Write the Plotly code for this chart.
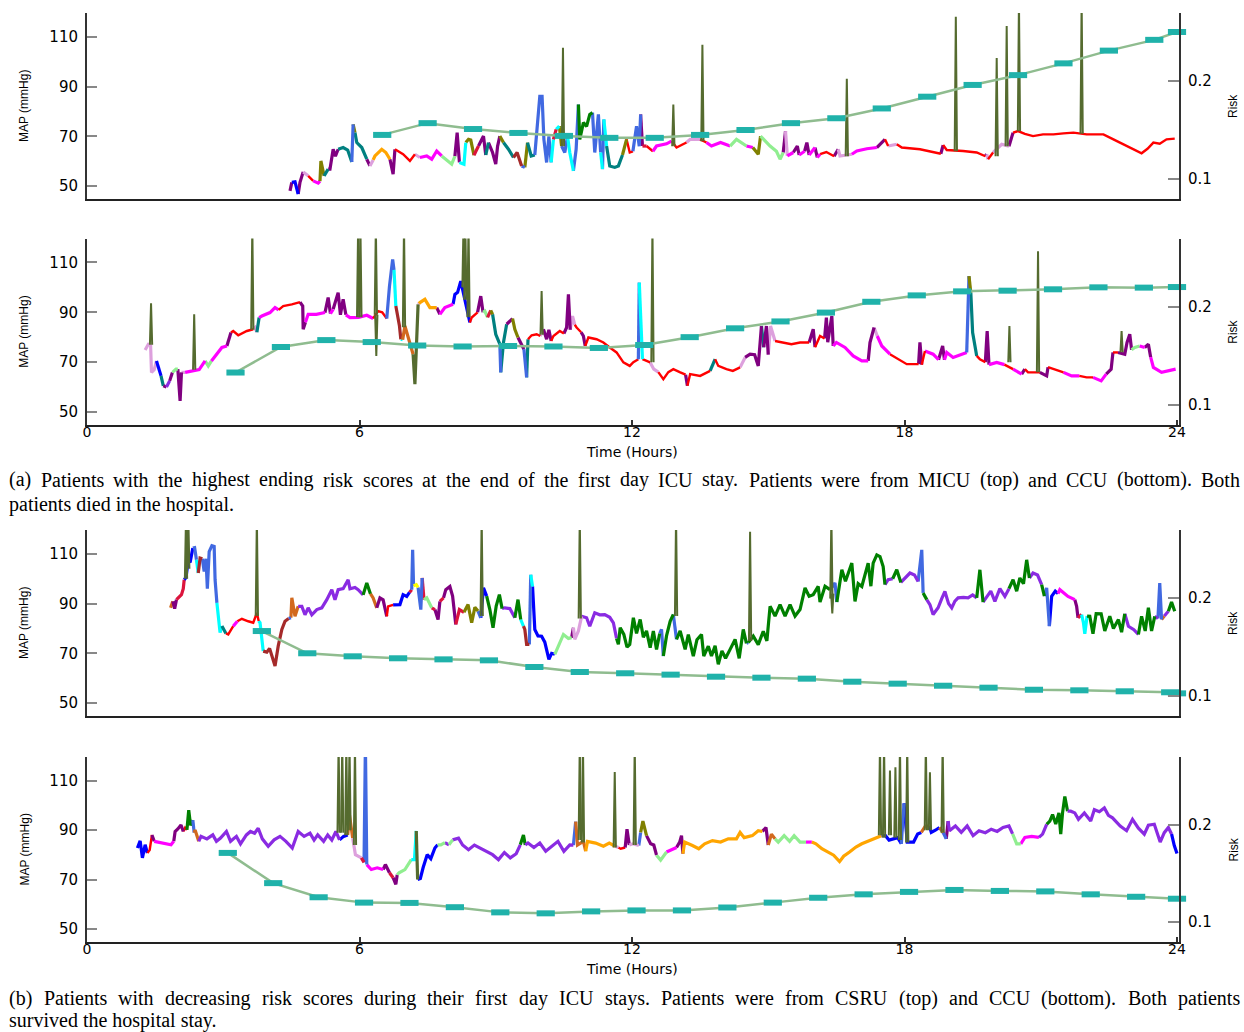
import plotly.graph_objects as go

# ---------------- data ----------------
hour_ticks = [0, 6, 12, 18, 24]
map_ticks = [50, 70, 90, 110]
risk_ticks = [0.1, 0.2]
risk_tick_text = ["0.1", "0.2"]

# MAP traces: (hour, mmHg, colour code of the segment that starts at this point)
map1 = [(4.47,48.1,'P'),(4.51,51.5,'b'),(4.58,51.7,'b'),(4.65,46.8,'P'),(4.69,51.5,'P'),(4.76,55.7,'L'),(4.87,54.1,'R'),(4.98,52.1,'M'),(5.09,51.2,'M'),(5.13,52.0,'O'),(5.15,60.1,'O'),(5.22,54.1,'T'),(5.31,56.8,'P'),(5.35,56.8,'P'),(5.42,64.8,'P'),(5.47,62.0,'P'),(5.53,64.8,'T'),(5.64,65.5,'T'),(5.74,64.5,'T'),(5.83,59.7,'B'),(5.86,74.8,'O'),(5.90,71.5,'T'),(5.94,67.5,'T'),(6.05,65.5,'T'),(6.16,60.8,'P'),(6.23,58.1,'L'),(6.30,60.5,'Y'),(6.34,62.1,'Y'),(6.49,64.8,'Y'),(6.58,63.5,'Y'),(6.67,60.8,'P'),(6.74,54.8,'P'),(6.78,64.8,'R'),(6.96,62.8,'R'),(7.11,60.1,'R'),(7.22,62.8,'L'),(7.33,61.5,'M'),(7.48,62.1,'M'),(7.59,60.8,'M'),(7.70,64.1,'M'),(7.81,62.1,'g'),(7.92,60.5,'g'),(8.03,58.8,'g'),(8.10,62.0,'P'),(8.15,71.5,'P'),(8.20,59.5,'C'),(8.30,58.8,'C'),(8.34,67.5,'O'),(8.40,68.8,'O'),(8.45,68.5,'O'),(8.52,62.4,'K'),(8.62,66.1,'P'),(8.73,70.1,'P'),(8.78,62.5,'T'),(8.84,67.5,'P'),(8.93,63.5,'P'),(9.00,58.8,'P'),(9.04,66.0,'P'),(9.09,70.1,'O'),(9.17,67.5,'T'),(9.28,64.8,'T'),(9.39,61.5,'W'),(9.47,63.5,'W'),(9.57,58.1,'B'),(9.64,57.5,'O'),(9.70,67.5,'T'),(9.78,62.1,'T'),(9.86,62.5,'B'),(9.90,71.5,'B'),(9.97,86.1,'B'),(10.02,86.1,'B'),(10.06,68.8,'B'),(10.12,59.5,'B'),(10.17,70.0,'B'),(10.22,59.5,'C'),(10.27,68.8,'K'),(10.33,72.8,'C'),(10.40,74.1,'O'),(10.45,66.1,'B'),(10.52,63.5,'B'),(10.58,70.0,'C'),(10.63,63.5,'C'),(10.71,56.1,'B'),(10.77,64.8,'B'),(10.82,82.8,'G'),(10.85,68.8,'G'),(10.93,75.5,'G'),(11.00,74.0,'G'),(11.07,78.8,'G'),(11.13,79.5,'B'),(11.18,63.5,'B'),(11.26,78.8,'B'),(11.31,63.5,'C'),(11.35,56.8,'B'),(11.38,76.8,'C'),(11.44,66.1,'T'),(11.51,58.1,'T'),(11.62,57.5,'T'),(11.70,58.1,'T'),(11.79,62.5,'O'),(11.88,68.8,'R'),(11.95,63.5,'R'),(12.02,64.0,'B'),(12.10,74.1,'B'),(12.16,66.0,'B'),(12.19,78.8,'P'),(12.23,66.1,'K'),(12.32,66.1,'R'),(12.46,64.0,'M'),(12.54,66.1,'M'),(12.76,67.0,'M'),(12.87,68.1,'R'),(12.98,65.5,'R'),(13.20,67.5,'L'),(13.28,68.8,'L'),(13.50,68.8,'R'),(13.64,67.5,'M'),(13.75,66.1,'M'),(13.95,67.5,'M'),(14.16,66.1,'g'),(14.30,68.8,'g'),(14.52,66.1,'M'),(14.66,65.5,'O'),(14.78,62.8,'O'),(14.83,70.1,'g'),(15.04,66.1,'g'),(15.18,64.0,'g'),(15.26,60.8,'g'),(15.33,63.5,'P'),(15.38,72.1,'L'),(15.42,62.1,'M'),(15.55,63.5,'P'),(15.64,66.1,'P'),(15.68,62.5,'M'),(15.80,64.0,'P'),(15.85,67.5,'P'),(15.90,62.5,'M'),(16.03,65.5,'P'),(16.08,61.5,'M'),(16.14,62.8,'R'),(16.28,63.7,'R'),(16.45,62.0,'P'),(16.54,64.8,'L'),(16.58,62.1,'L'),(16.84,62.8,'M'),(16.95,64.1,'M'),(17.17,65.0,'M'),(17.39,65.5,'P'),(17.57,68.8,'R'),(17.64,66.1,'L'),(17.83,66.8,'R'),(17.94,65.5,'R'),(18.34,64.8,'R'),(18.63,63.5,'R'),(18.80,63.0,'P'),(18.85,66.5,'R'),(18.93,64.5,'R'),(19.29,64.1,'R'),(19.59,63.5,'R'),(19.78,62.0,'P'),(19.81,62.8,'L'),(19.84,60.8,'R'),(19.95,63.5,'L'),(20.14,66.8,'L'),(20.30,66.0,'P'),(20.39,71.5,'R'),(20.50,72.1,'R'),(20.65,71.0,'R'),(20.83,70.1,'R'),(21.05,70.8,'R'),(21.28,70.8,'R'),(21.50,71.2,'R'),(21.72,71.5,'R'),(22.01,70.8,'R'),(22.38,70.8,'R'),(22.60,68.8,'R'),(22.89,66.1,'R'),(23.05,64.5,'R'),(23.22,63.2,'R'),(23.35,65.0,'R'),(23.48,67.5,'R'),(23.62,67.0,'R'),(23.77,68.8,'R'),(23.95,69.1,'R')]

map2 = [(1.28,74.9,'L'),(1.35,77.2,'L'),(1.40,77.0,'L'),(1.42,65.9,'L'),(1.48,67.0,'L'),(1.53,70.5,'b'),(1.58,67.0,'b'),(1.63,64.5,'T'),(1.68,60.5,'P'),(1.75,60.0,'V'),(1.82,62.5,'P'),(1.88,65.9,'g'),(1.96,67.2,'g'),(2.00,67.2,'P'),(2.05,54.5,'P'),(2.08,65.9,'L'),(2.16,65.9,'M'),(2.34,66.5,'M'),(2.47,67.0,'M'),(2.60,70.5,'g'),(2.67,68.5,'g'),(2.74,70.5,'M'),(2.82,72.5,'M'),(2.97,75.9,'M'),(3.08,76.5,'P'),(3.13,79.9,'P'),(3.17,81.9,'R'),(3.22,82.5,'R'),(3.33,80.8,'R'),(3.52,82.5,'R'),(3.66,83.2,'L'),(3.70,83.9,'L'),(3.74,82.0,'T'),(3.79,87.9,'M'),(3.85,88.5,'M'),(4.03,89.9,'M'),(4.14,91.9,'M'),(4.22,91.0,'R'),(4.32,92.5,'R'),(4.51,93.2,'R'),(4.69,94.1,'P'),(4.75,92.5,'P'),(4.76,83.2,'P'),(4.81,86.0,'M'),(4.87,89.2,'M'),(5.05,89.2,'M'),(5.24,89.9,'P'),(5.31,95.9,'P'),(5.36,89.5,'M'),(5.42,91.2,'P'),(5.53,97.9,'P'),(5.58,89.0,'P'),(5.64,95.2,'P'),(5.70,89.0,'M'),(5.79,87.9,'M'),(5.98,88.0,'M'),(6.16,88.8,'M'),(6.30,87.5,'R'),(6.41,90.5,'R'),(6.50,90.0,'R'),(6.60,87.5,'B'),(6.66,100.5,'B'),(6.73,111.2,'B'),(6.76,107.0,'C'),(6.80,92.5,'W'),(6.88,84.5,'W'),(6.91,79.2,'C'),(6.95,79.0,'H'),(7.00,84.5,'H'),(7.18,73.2,'D'),(7.22,61.2,'D'),(7.29,93.2,'L'),(7.31,93.5,'Y'),(7.33,93.9,'Y'),(7.44,95.2,'Y'),(7.55,91.9,'Y'),(7.70,91.9,'P'),(7.77,89.2,'M'),(7.88,91.9,'M'),(8.06,93.2,'b'),(8.10,97.2,'b'),(8.16,98.0,'b'),(8.23,102.5,'b'),(8.43,85.9,'R'),(8.47,87.9,'R'),(8.60,90.0,'P'),(8.67,96.5,'P'),(8.72,90.0,'g'),(8.76,90.5,'g'),(8.82,88.0,'K'),(8.89,90.8,'O'),(8.93,89.2,'T'),(9.00,81.2,'T'),(9.09,77.2,'B'),(9.11,65.9,'T'),(9.17,77.9,'T'),(9.24,85.2,'P'),(9.37,87.5,'O'),(9.42,83.2,'O'),(9.49,79.9,'P'),(9.62,75.2,'B'),(9.68,63.9,'T'),(9.71,79.2,'R'),(9.79,80.8,'R'),(9.90,81.2,'R'),(9.98,80.5,'L'),(10.05,83.2,'P'),(10.12,79.2,'P'),(10.17,83.0,'P'),(10.22,78.5,'R'),(10.27,80.5,'R'),(10.41,82.5,'R'),(10.50,81.5,'P'),(10.56,83.9,'P'),(10.60,97.2,'P'),(10.64,83.0,'L'),(10.69,88.5,'L'),(10.74,85.0,'R'),(10.78,83.9,'R'),(10.88,82.0,'P'),(10.93,80.5,'P'),(10.97,76.5,'R'),(11.04,79.9,'R'),(11.22,79.2,'R'),(11.37,77.9,'R'),(11.51,75.9,'R'),(11.66,73.9,'R'),(11.81,69.9,'R'),(11.95,68.5,'R'),(12.03,70.0,'R'),(12.14,71.2,'B'),(12.16,101.9,'C'),(12.19,85.9,'C'),(12.23,71.2,'R'),(12.32,70.5,'R'),(12.40,69.9,'L'),(12.48,67.2,'L'),(12.58,66.0,'R'),(12.69,63.2,'R'),(12.80,66.0,'R'),(12.91,67.2,'R'),(13.05,66.0,'R'),(13.18,65.0,'P'),(13.22,60.5,'R'),(13.28,65.2,'R'),(13.50,64.5,'R'),(13.72,66.5,'T'),(13.83,71.2,'R'),(13.90,68.5,'R'),(14.08,67.2,'R'),(14.22,66.5,'R'),(14.38,67.9,'L'),(14.49,71.9,'P'),(14.60,73.2,'P'),(14.70,73.0,'P'),(14.78,68.5,'P'),(14.85,84.5,'T'),(14.90,76.0,'P'),(14.96,84.5,'P'),(15.00,73.0,'L'),(15.05,84.5,'L'),(15.15,78.5,'R'),(15.33,77.9,'R'),(15.51,77.2,'R'),(15.70,77.9,'R'),(15.90,77.9,'P'),(15.99,83.2,'P'),(16.03,76.0,'R'),(16.14,80.5,'R'),(16.24,79.5,'P'),(16.28,87.9,'P'),(16.31,78.0,'P'),(16.40,88.5,'P'),(16.43,76.5,'M'),(16.50,77.9,'M'),(16.69,75.9,'M'),(16.87,72.5,'M'),(17.06,70.5,'M'),(17.20,70.5,'P'),(17.24,77.9,'P'),(17.33,83.9,'L'),(17.40,80.5,'M'),(17.50,76.5,'M'),(17.68,73.2,'R'),(17.86,71.2,'R'),(18.05,69.2,'R'),(18.31,69.2,'P'),(18.34,77.9,'P'),(18.38,69.0,'R'),(18.45,74.5,'M'),(18.63,73.2,'M'),(18.75,71.0,'P'),(18.84,76.5,'P'),(18.88,71.0,'M'),(18.93,73.9,'M'),(19.07,71.9,'M'),(19.22,73.0,'M'),(19.37,73.9,'B'),(19.42,104.5,'O'),(19.46,97.9,'T'),(19.50,81.9,'T'),(19.59,72.5,'R'),(19.66,71.2,'R'),(19.78,70.0,'P'),(19.82,82.5,'P'),(19.86,69.0,'M'),(20.03,69.9,'M'),(20.20,69.0,'R'),(20.39,67.2,'M'),(20.58,65.2,'P'),(20.65,67.2,'R'),(20.72,65.9,'R'),(20.98,65.9,'P'),(21.13,64.5,'P'),(21.16,68.0,'R'),(21.28,67.2,'R'),(21.50,65.9,'M'),(21.68,64.5,'M'),(21.85,64.5,'R'),(22.01,63.9,'R'),(22.15,63.9,'M'),(22.33,62.5,'M'),(22.44,65.2,'P'),(22.55,67.2,'P'),(22.59,73.9,'R'),(22.70,73.9,'P'),(22.85,73.2,'P'),(22.90,77.9,'P'),(22.96,81.2,'P'),(23.00,75.0,'g'),(23.07,75.9,'g'),(23.18,76.5,'M'),(23.29,75.9,'P'),(23.37,77.2,'P'),(23.42,72.0,'M'),(23.48,67.9,'M'),(23.66,65.9,'M'),(23.82,66.5,'M'),(23.97,67.2,'M')]

map3 = [(1.84,88.3,'H'),(1.89,90.9,'P'),(1.93,88.0,'P'),(1.97,91.6,'K'),(2.08,93.6,'K'),(2.12,96.0,'K'),(2.14,99.6,'b'),(2.18,100.5,'b'),(2.23,107.6,'b'),(2.27,106.5,'b'),(2.33,112.3,'B'),(2.37,112.5,'B'),(2.41,107.6,'C'),(2.45,102.3,'W'),(2.49,108.3,'W'),(2.54,108.0,'B'),(2.58,102.9,'B'),(2.62,108.0,'B'),(2.65,96.0,'B'),(2.69,110.9,'B'),(2.75,113.3,'B'),(2.80,113.0,'B'),(2.82,99.6,'B'),(2.86,90.3,'C'),(2.89,84.9,'C'),(2.93,78.3,'C'),(2.97,81.0,'T'),(3.02,78.9,'T'),(3.06,78.0,'R'),(3.11,77.6,'R'),(3.22,80.9,'M'),(3.31,82.9,'R'),(3.41,83.9,'R'),(3.55,82.9,'R'),(3.66,82.3,'R'),(3.74,86.3,'R'),(3.78,83.0,'C'),(3.81,82.3,'C'),(3.88,70.9,'W'),(3.96,70.5,'W'),(4.02,72.0,'W'),(4.09,67.6,'W'),(4.14,64.9,'W'),(4.21,72.9,'W'),(4.29,79.6,'W'),(4.36,82.9,'W'),(4.44,84.0,'B'),(4.49,84.3,'H'),(4.51,92.3,'H'),(4.58,84.9,'H'),(4.65,88.9,'V'),(4.73,88.9,'V'),(4.80,85.5,'V'),(4.87,88.3,'V'),(4.95,85.5,'V'),(5.06,87.6,'V'),(5.17,88.3,'V'),(5.28,91.6,'V'),(5.39,95.6,'V'),(5.46,91.5,'V'),(5.53,95.6,'V'),(5.64,96.0,'V'),(5.75,99.6,'V'),(5.79,96.0,'V'),(5.90,96.5,'V'),(5.97,95.6,'V'),(6.08,93.5,'G'),(6.16,98.3,'G'),(6.24,94.0,'H'),(6.30,92.3,'H'),(6.38,88.3,'P'),(6.45,92.3,'P'),(6.52,91.5,'P'),(6.60,84.9,'R'),(6.63,88.9,'R'),(6.74,89.5,'b'),(6.82,89.6,'b'),(6.89,89.6,'b'),(6.96,93.6,'b'),(7.04,92.9,'b'),(7.10,94.5,'K'),(7.15,95.6,'B'),(7.17,111.6,'B'),(7.19,97.2,'y'),(7.25,97.6,'y'),(7.29,96.5,'B'),(7.35,87.6,'B'),(7.38,100.3,'K'),(7.42,91.6,'g'),(7.48,92.3,'g'),(7.59,88.3,'K'),(7.66,87.6,'P'),(7.73,83.6,'P'),(7.77,90.9,'K'),(7.85,92.3,'P'),(7.90,95.6,'P'),(7.99,96.9,'P'),(8.05,93.0,'P'),(8.12,81.6,'K'),(8.20,87.6,'K'),(8.30,86.5,'O'),(8.39,89.6,'O'),(8.47,82.3,'O'),(8.54,88.5,'O'),(8.61,87.0,'B'),(8.67,84.3,'b'),(8.73,96.3,'b'),(8.80,93.0,'G'),(8.87,87.6,'G'),(8.94,80.3,'G'),(9.01,89.0,'G'),(9.08,93.6,'G'),(9.14,88.0,'V'),(9.20,88.3,'V'),(9.31,88.0,'V'),(9.42,84.3,'G'),(9.49,91.6,'G'),(9.55,83.6,'C'),(9.61,80.9,'W'),(9.64,79.6,'W'),(9.68,73.6,'W'),(9.74,73.6,'B'),(9.77,101.6,'C'),(9.81,96.9,'b'),(9.86,79.6,'b'),(9.93,77.0,'b'),(10.01,76.9,'b'),(10.08,74.5,'b'),(10.17,67.6,'b'),(10.23,70.0,'b'),(10.30,69.6,'g'),(10.41,74.3,'g'),(10.49,77.6,'g'),(10.60,76.0,'g'),(10.67,76.3,'P'),(10.71,80.3,'L'),(10.74,75.6,'L'),(10.82,79.0,'L'),(10.89,84.9,'V'),(11.00,84.3,'V'),(11.07,80.9,'V'),(11.18,86.3,'V'),(11.29,85.5,'V'),(11.40,85.6,'V'),(11.51,84.5,'V'),(11.59,82.3,'V'),(11.66,76.0,'G'),(11.70,73.6,'G'),(11.74,80.3,'G'),(11.82,77.6,'G'),(11.89,72.5,'G'),(11.95,73.6,'G'),(12.03,84.3,'G'),(12.10,78.0,'G'),(12.18,83.6,'G'),(12.25,76.5,'G'),(12.32,79.0,'G'),(12.40,72.3,'G'),(12.47,79.0,'G'),(12.54,71.6,'G'),(12.61,78.0,'B'),(12.65,79.6,'B'),(12.69,68.9,'G'),(12.76,77.0,'G'),(12.84,82.9,'G'),(12.91,85.6,'B'),(12.98,75.6,'G'),(13.06,79.0,'G'),(13.17,71.6,'G'),(13.24,77.5,'G'),(13.35,68.9,'G'),(13.43,75.5,'G'),(13.53,77.6,'G'),(13.58,68.9,'G'),(13.68,72.9,'G'),(13.75,68.9,'G'),(13.83,73.0,'G'),(13.90,65.6,'G'),(13.98,71.0,'G'),(14.06,68.0,'G'),(14.16,71.6,'G'),(14.27,75.6,'G'),(14.36,68.0,'G'),(14.45,79.6,'G'),(14.52,74.0,'B'),(14.56,74.3,'G'),(14.67,76.9,'G'),(14.78,73.5,'G'),(14.89,78.9,'G'),(14.97,75.0,'G'),(15.04,88.9,'G'),(15.15,85.0,'G'),(15.26,89.6,'G'),(15.37,85.0,'G'),(15.48,89.6,'G'),(15.59,85.0,'G'),(15.70,87.6,'G'),(15.81,96.3,'G'),(15.90,93.0,'G'),(15.99,93.6,'G'),(16.10,96.9,'G'),(16.14,90.6,'G'),(16.25,97.0,'G'),(16.36,95.6,'B'),(16.47,98.3,'B'),(16.51,90.6,'G'),(16.56,97.0,'G'),(16.62,103.6,'G'),(16.70,99.0,'G'),(16.84,106.3,'G'),(16.91,90.9,'G'),(16.98,98.0,'G'),(17.06,96.9,'G'),(17.13,102.0,'G'),(17.20,106.3,'G'),(17.26,97.0,'G'),(17.31,106.3,'G'),(17.39,109.6,'G'),(17.46,108.9,'G'),(17.53,104.9,'G'),(17.57,97.6,'V'),(17.64,99.6,'V'),(17.74,100.0,'G'),(17.83,103.6,'G'),(17.92,98.5,'V'),(18.01,100.3,'V'),(18.12,102.3,'V'),(18.22,101.5,'V'),(18.30,98.9,'B'),(18.38,111.6,'B'),(18.41,94.3,'G'),(18.49,91.6,'V'),(18.56,89.6,'V'),(18.63,85.6,'V'),(18.74,88.3,'V'),(18.82,92.0,'V'),(18.89,94.9,'V'),(18.97,90.0,'V'),(19.04,88.3,'V'),(19.11,91.0,'V'),(19.18,92.3,'V'),(19.30,92.5,'V'),(19.40,92.3,'V'),(19.50,93.5,'V'),(19.59,92.3,'G'),(19.66,103.6,'G'),(19.73,90.6,'V'),(19.81,92.9,'V'),(19.90,95.0,'V'),(19.99,90.9,'V'),(20.10,96.0,'V'),(20.21,92.9,'V'),(20.30,96.0,'G'),(20.39,99.6,'G'),(20.47,95.0,'G'),(20.54,100.3,'G'),(20.62,98.0,'G'),(20.69,107.6,'G'),(20.75,100.3,'V'),(20.83,102.3,'V'),(20.93,101.5,'V'),(21.02,97.6,'G'),(21.08,93.0,'B'),(21.13,96.3,'B'),(21.19,80.9,'b'),(21.24,92.9,'b'),(21.32,95.0,'b'),(21.38,94.0,'M'),(21.42,95.6,'M'),(21.60,92.9,'M'),(21.75,91.6,'P'),(21.79,88.9,'P'),(21.82,84.3,'K'),(21.90,85.6,'C'),(21.94,82.3,'C'),(21.97,77.9,'C'),(22.02,85.0,'G'),(22.08,84.9,'G'),(22.15,77.9,'G'),(22.22,86.0,'G'),(22.33,85.9,'G'),(22.41,79.0,'G'),(22.52,84.9,'G'),(22.60,80.0,'G'),(22.71,83.6,'G'),(22.78,78.5,'G'),(22.85,85.9,'V'),(22.93,80.9,'V'),(23.05,79.5,'V'),(23.15,77.6,'G'),(23.22,84.9,'G'),(23.30,79.0,'G'),(23.37,88.3,'G'),(23.44,79.0,'G'),(23.51,84.9,'V'),(23.58,84.0,'B'),(23.62,98.3,'B'),(23.66,83.6,'H'),(23.72,85.0,'V'),(23.81,86.9,'G'),(23.88,90.6,'G'),(23.95,86.9,'G')]

map4 = [(1.11,82.8,'b'),(1.17,85.7,'b'),(1.22,78.8,'b'),(1.28,84.1,'b'),(1.33,80.8,'R'),(1.38,82.0,'R'),(1.43,88.1,'P'),(1.48,85.5,'M'),(1.60,85.0,'M'),(1.72,84.8,'M'),(1.85,84.1,'M'),(1.91,85.5,'P'),(1.94,89.5,'P'),(2.00,90.5,'P'),(2.07,92.1,'P'),(2.12,89.5,'R'),(2.16,91.0,'R'),(2.20,90.1,'G'),(2.24,98.1,'G'),(2.28,92.0,'G'),(2.33,94.1,'B'),(2.36,89.0,'H'),(2.38,90.1,'H'),(2.46,85.5,'V'),(2.51,87.5,'V'),(2.64,86.5,'V'),(2.77,88.1,'V'),(2.85,85.5,'V'),(2.94,86.8,'V'),(3.07,89.5,'V'),(3.16,85.5,'V'),(3.29,87.5,'V'),(3.38,84.5,'V'),(3.51,88.1,'V'),(3.60,89.5,'V'),(3.69,88.8,'V'),(3.77,90.8,'V'),(3.86,86.5,'V'),(3.99,83.5,'V'),(4.12,86.1,'V'),(4.25,87.5,'V'),(4.38,85.5,'V'),(4.52,82.8,'V'),(4.65,89.5,'V'),(4.78,87.5,'V'),(4.91,88.8,'V'),(5.00,86.0,'V'),(5.08,88.1,'V'),(5.21,85.5,'V'),(5.30,88.1,'V'),(5.39,86.0,'V'),(5.48,89.5,'V'),(5.56,86.1,'b'),(5.65,87.5,'b'),(5.74,88.1,'H'),(5.78,96.1,'H'),(5.85,86.8,'L'),(5.91,80.1,'L'),(6.04,78.8,'K'),(6.10,77.0,'B'),(6.13,125.0,'B'),(6.16,76.1,'M'),(6.26,74.1,'M'),(6.39,74.8,'M'),(6.52,74.1,'P'),(6.57,76.1,'P'),(6.66,72.8,'K'),(6.74,70.8,'P'),(6.80,68.1,'P'),(6.83,72.0,'g'),(6.87,72.8,'g'),(7.00,74.1,'g'),(7.14,78.1,'C'),(7.21,78.1,'C'),(7.25,89.7,'D'),(7.28,70.1,'b'),(7.34,70.5,'b'),(7.40,74.8,'b'),(7.49,80.1,'b'),(7.57,78.5,'b'),(7.66,82.8,'b'),(7.72,84.1,'g'),(7.79,84.1,'g'),(7.88,85.0,'V'),(7.97,84.1,'g'),(8.05,86.1,'V'),(8.18,86.8,'V'),(8.27,84.0,'V'),(8.40,82.1,'V'),(8.53,84.0,'V'),(8.66,82.8,'V'),(8.79,81.5,'V'),(8.93,80.1,'V'),(9.06,78.1,'V'),(9.19,81.0,'V'),(9.32,78.8,'V'),(9.45,80.5,'V'),(9.54,84.1,'G'),(9.61,88.1,'G'),(9.65,84.0,'V'),(9.71,84.8,'V'),(9.84,83.0,'V'),(9.97,84.8,'V'),(10.10,81.5,'V'),(10.24,83.5,'V'),(10.37,85.5,'V'),(10.50,81.5,'V'),(10.63,84.1,'V'),(10.71,84.0,'B'),(10.76,93.5,'H'),(10.80,84.0,'H'),(10.93,85.5,'H'),(10.98,81.5,'Y'),(11.02,85.5,'Y'),(11.20,84.8,'Y'),(11.37,83.5,'Y'),(11.50,84.8,'Y'),(11.63,83.5,'L'),(11.70,83.0,'R'),(11.75,82.5,'R'),(11.85,83.0,'P'),(11.89,90.4,'P'),(11.94,84.0,'L'),(12.02,84.5,'L'),(12.15,83.8,'B'),(12.19,89.1,'O'),(12.24,93.7,'O'),(12.32,87.8,'P'),(12.41,84.5,'P'),(12.48,84.0,'P'),(12.54,79.9,'g'),(12.63,77.9,'g'),(12.76,81.2,'M'),(12.85,81.9,'M'),(12.98,83.0,'P'),(13.05,85.2,'P'),(13.09,87.8,'P'),(13.12,80.5,'Y'),(13.16,85.2,'Y'),(13.33,83.8,'Y'),(13.47,82.5,'Y'),(13.60,84.5,'Y'),(13.77,85.8,'Y'),(13.95,85.2,'Y'),(14.12,86.5,'Y'),(14.30,86.5,'Y'),(14.38,89.1,'Y'),(14.47,87.0,'Y'),(14.65,87.8,'Y'),(14.78,89.8,'Y'),(14.87,89.5,'P'),(14.95,91.1,'P'),(15.00,84.0,'H'),(15.07,88.4,'H'),(15.15,86.5,'g'),(15.22,85.2,'g'),(15.35,87.8,'g'),(15.47,85.5,'g'),(15.57,87.8,'g'),(15.70,85.2,'g'),(15.83,85.2,'M'),(15.96,85.2,'Y'),(16.05,84.5,'Y'),(16.18,82.5,'Y'),(16.31,81.2,'Y'),(16.44,79.9,'Y'),(16.57,77.3,'Y'),(16.66,79.5,'Y'),(16.79,81.2,'Y'),(16.93,83.2,'Y'),(17.06,84.5,'Y'),(17.23,85.8,'Y'),(17.36,87.1,'Y'),(17.49,87.8,'b'),(17.58,87.8,'b'),(17.66,86.0,'b'),(17.85,87.0,'b'),(17.93,84.5,'B'),(17.99,100.9,'b'),(18.06,85.2,'b'),(18.20,85.2,'b'),(18.29,88.5,'b'),(18.37,89.1,'H'),(18.46,91.7,'H'),(18.55,91.7,'b'),(18.59,89.1,'b'),(18.68,90.0,'b'),(18.77,91.1,'H'),(18.85,89.1,'B'),(18.92,86.5,'P'),(18.96,93.7,'V'),(18.99,89.8,'V'),(19.12,91.7,'V'),(19.25,89.1,'V'),(19.38,91.7,'V'),(19.51,87.8,'V'),(19.64,89.8,'V'),(19.78,89.0,'V'),(19.91,90.4,'V'),(20.04,89.5,'V'),(20.17,91.1,'V'),(20.30,91.7,'V'),(20.38,88.5,'g'),(20.47,84.5,'g'),(20.56,84.5,'M'),(20.65,87.1,'M'),(20.80,87.5,'M'),(20.96,87.1,'V'),(21.04,88.4,'V'),(21.13,92.4,'G'),(21.20,93.7,'G'),(21.26,96.3,'G'),(21.33,92.5,'G'),(21.40,97.0,'G'),(21.44,88.4,'G'),(21.48,97.0,'G'),(21.53,103.6,'G'),(21.59,97.7,'V'),(21.66,97.7,'V'),(21.75,97.0,'V'),(21.83,94.4,'V'),(21.96,97.0,'V'),(22.10,93.7,'V'),(22.18,98.3,'V'),(22.29,97.5,'V'),(22.40,99.0,'V'),(22.49,96.0,'V'),(22.58,95.0,'V'),(22.75,91.7,'V'),(22.89,89.8,'V'),(23.02,94.4,'V'),(23.15,90.8,'V'),(23.28,88.4,'V'),(23.37,92.0,'V'),(23.50,92.4,'V'),(23.63,85.2,'V'),(23.72,89.0,'V'),(23.81,91.1,'V'),(23.88,88.5,'b'),(23.94,83.8,'b'),(24.00,80.6,'b')]

# artefact spikes: time, baseline, peak (mmHg)
spike1_t = [10.48, 12.91, 13.55, 16.73, 19.13, 20.03, 20.25, 20.52, 21.90]
spike1_base = [66, 66, 68, 62, 64, 62, 66, 72, 71]
spike1_peak = [105.6, 82.8, 106.8, 93.2, 118.1, 101.5, 114.4, 125, 125]

spike2_t = [1.41, 2.36, 3.64, 5.97, 6.02, 6.36, 6.37, 6.98, 8.29, 8.33, 8.40, 10.01, 12.45, 20.31, 20.94, 22.78]
spike2_base = [77, 67, 83, 88, 88, 89, 89, 84, 100, 95, 88, 81, 70, 70, 66, 74]
spike2_peak = [93.6, 89.2, 125, 125, 125, 125, 72.5, 125, 125, 125, 125, 98.5, 125, 84.5, 114.5, 82.5]

spike3_t = [2.18, 2.23, 3.74, 8.69, 10.85, 12.97, 14.60, 16.39, 16.41]
spike3_base = [100, 104, 85, 85, 84, 85, 75, 92, 94]
spike3_peak = [125, 125, 125, 125, 125, 125, 118.9, 125, 86]

spike4_t = [5.54, 5.62, 5.71, 5.78, 5.90, 10.85, 10.92, 11.62, 12.06, 17.46, 17.55, 17.68, 17.80, 17.90, 18.06, 18.47, 18.56, 18.84]
spike4_base = [89, 89, 88, 90, 84, 86, 85, 83, 84, 88, 87, 88, 87, 86, 85, 90, 90, 89]
spike4_peak = [125, 125, 125, 125, 125, 125, 125, 113.5, 125, 125, 125, 114.1, 115.4, 125, 125, 125, 113.4, 125]

# hourly risk scores
risk1_t = [6.5, 7.5, 8.5, 9.5, 10.5, 11.5, 12.5, 13.5, 14.5, 15.5, 16.5, 17.5, 18.5, 19.5, 20.5, 21.5, 22.5, 23.5, 24.0]
risk1_v = [0.145, 0.157, 0.151, 0.147, 0.144, 0.142, 0.142, 0.145, 0.150, 0.157, 0.162, 0.172, 0.184, 0.196, 0.206, 0.218, 0.231, 0.242, 0.250]
risk2_t = [3.27, 4.27, 5.27, 6.27, 7.27, 8.27, 9.27, 10.27, 11.27, 12.27, 13.27, 14.27, 15.27, 16.27, 17.27, 18.27, 19.27, 20.27, 21.27, 22.27, 23.27, 24.0]
risk2_v = [0.133, 0.159, 0.166, 0.164, 0.1605, 0.1595, 0.160, 0.1595, 0.158, 0.161, 0.169, 0.178, 0.185, 0.194, 0.205, 0.2115, 0.2156, 0.2163, 0.2177, 0.2197, 0.2194, 0.220]
risk3_t = [3.85, 4.85, 5.85, 6.85, 7.85, 8.85, 9.85, 10.85, 11.85, 12.85, 13.85, 14.85, 15.85, 16.85, 17.85, 18.85, 19.85, 20.85, 21.85, 22.85, 23.85, 24.0]
risk3_v = [0.1663, 0.1436, 0.1405, 0.1385, 0.1374, 0.1364, 0.1296, 0.1245, 0.1232, 0.1218, 0.1197, 0.1187, 0.1177, 0.1146, 0.1126, 0.1105, 0.1085, 0.1064, 0.1058, 0.1048, 0.1038, 0.1027]
risk4_t = [3.1, 4.1, 5.1, 6.1, 7.1, 8.1, 9.1, 10.1, 11.1, 12.1, 13.1, 14.1, 15.1, 16.1, 17.1, 18.1, 19.1, 20.1, 21.1, 22.1, 23.1, 24.0]
risk4_v = [0.171, 0.140, 0.1255, 0.120, 0.1197, 0.1153, 0.110, 0.109, 0.111, 0.112, 0.112, 0.115, 0.120, 0.125, 0.1285, 0.131, 0.133, 0.132, 0.1315, 0.1285, 0.126, 0.124]

caption_a = ["(a) Patients with the highest ending risk scores at the end of the first day ICU stay. Patients were from MICU (top) and CCU (bottom). Both",
             "patients died in the hospital."]
caption_b = ["(b) Patients with decreasing risk scores during their first day ICU stays. Patients were from CSRU (top) and CCU (bottom). Both patients",
             "survived the hospital stay."]

# ---------------- styling ----------------
PALETTE = {'R': '#FF0000', 'M': '#FF00FF', 'P': '#800080', 'L': '#DDA0DD', 'T': '#008080',
           'O': '#808000', 'B': '#4169E1', 'b': '#0000FF', 'C': '#00FFFF', 'G': '#008000',
           'g': '#90EE90', 'Y': '#FFA500', 'W': '#A52A2A', 'H': '#D2691E', 'V': '#8A2BE2',
           'y': '#FFFF00', 'K': '#DC143C', 'D': '#556B2F'}
SPIKE_COLOR = '#556B2F'
RISK_LINE = '#8FBC8F'
RISK_MARK = '#20B2AA'

W, H = 1244, 1032
PANELS = [(13, 199), (238.5, 425), (530, 716), (757, 942)]
MAP_RANGE = [44.8, 119.6]
RISK_RANGE = [0.0796, 0.2694]


def px(x):
    return x / W


def py(y):
    return 1 - y / H


fig = go.Figure()
maps = [map1, map2, map3, map4]
spikes = [(spike1_t, spike1_base, spike1_peak), (spike2_t, spike2_base, spike2_peak),
          (spike3_t, spike3_base, spike3_peak), (spike4_t, spike4_base, spike4_peak)]
risks = [(risk1_t, risk1_v), (risk2_t, risk2_v), (risk3_t, risk3_v), (risk4_t, risk4_v)]
TICKFONT = dict(family='DejaVu Sans', size=15, color='#000')
XTICKFONT = dict(family='DejaVu Sans', size=14, color='#000')

for k in range(4):
    xa = 'x' if k == 0 else 'x%d' % (k + 1)
    ya = 'y' if k == 0 else 'y%d' % (k + 1)
    yr = 'y%d' % (k + 5)
    rows = maps[k]
    n = len(rows)
    by_col = {}
    s = 0
    for i in range(1, n + 1):
        if i == n or rows[i][2] != rows[s][2]:
            e = min(i, n - 1)
            code = rows[s][2]
            xs, ys = by_col.setdefault(code, ([], []))
            xs.extend([r[0] for r in rows[s:e + 1]] + [None])
            ys.extend([r[1] for r in rows[s:e + 1]] + [None])
            s = i
    for code, (xs, ys) in by_col.items():
        fig.add_trace(go.Scatter(x=xs, y=ys, mode='lines', xaxis=xa, yaxis=ya,
                                 line=dict(color=PALETTE[code], width=2.4 if code == 'R' else 3.2),
                                 showlegend=False, hoverinfo='skip'))
    st, sb, sp = spikes[k]
    sx, sy = [], []
    for t, b, p in zip(st, sb, sp):
        sx += [t - 0.025, t, t + 0.025, None]
        sy += [b, p, b, None]
    fig.add_trace(go.Scatter(x=sx, y=sy, mode='lines', xaxis=xa, yaxis=ya,
                             line=dict(color=SPIKE_COLOR, width=2), showlegend=False, hoverinfo='skip'))
    rt, rv = risks[k]
    fig.add_trace(go.Scatter(x=rt, y=rv, mode='lines+markers', xaxis=xa, yaxis=yr,
                             line=dict(color=RISK_LINE, width=2.5),
                             marker=dict(symbol='line-ew', size=13, color=RISK_MARK,
                                         line=dict(color=RISK_MARK, width=6)),
                             cliponaxis=False, showlegend=False, hoverinfo='skip'))

    top, bot = PANELS[k]
    show_x = k in (1, 3)
    xkey = 'xaxis' if k == 0 else 'xaxis%d' % (k + 1)
    ykey = 'yaxis' if k == 0 else 'yaxis%d' % (k + 1)
    rkey = 'yaxis%d' % (k + 5)
    fig.layout[xkey] = dict(domain=[px(87), px(1179)], range=[0, 24.044], anchor=ya,
                            showline=True, linecolor='#222', linewidth=2, mirror=False,
                            showgrid=False, zeroline=False, automargin=False,
                            tickvals=hour_ticks if show_x else [], ticks='inside' if show_x else '',
                            ticklen=5, tickcolor='#333', tickwidth=1.5,
                            showticklabels=show_x, ticklabelstandoff=-7, tickfont=XTICKFONT)
    fig.layout[ykey] = dict(domain=[py(bot), py(top)], range=MAP_RANGE, anchor=xa,
                            showline=True, linecolor='#333', linewidth=2,
                            showgrid=False, zeroline=False, automargin=False,
                            tickvals=map_ticks, ticks='inside', ticklen=10, tickcolor='#888', tickwidth=1.5,
                            ticklabelstandoff=4, tickfont=TICKFONT)
    fig.layout[rkey] = dict(range=RISK_RANGE, anchor=xa, overlaying=ya, side='right',
                            showline=True, linecolor='#333', linewidth=2,
                            showgrid=False, zeroline=False, automargin=False,
                            tickvals=risk_ticks, ticktext=risk_tick_text,
                            ticks='inside', ticklen=11, tickcolor='#888', tickwidth=1.5,
                            ticklabelstandoff=4, tickfont=TICKFONT)

# ---------------- text annotations ----------------
ann = []
for k, (top, bot) in enumerate(PANELS):
    cy = (top + bot) / 2
    ann.append(dict(text='MAP (mmHg)', x=px(24), y=py(cy), xref='paper', yref='paper',
                    showarrow=False, textangle=-90, xanchor='center', yanchor='middle',
                    font=dict(family='Liberation Sans', size=12, color='#000')))
    ann.append(dict(text='Risk', x=px(1233), y=py(cy), xref='paper', yref='paper',
                    showarrow=False, textangle=-90, xanchor='center', yanchor='middle',
                    font=dict(family='Liberation Sans', size=12, color='#000')))
for yc in (452, 969):
    ann.append(dict(text='Time (Hours)', x=px(632), y=py(yc), xref='paper', yref='paper',
                    showarrow=False, xanchor='center', yanchor='middle', borderpad=0,
                    font=dict(family='DejaVu Sans', size=14, color='#000')))

TW = {' ': 250, '(': 333, ')': 333, '.': 250, ',': 250, 'a': 444, 'b': 500, 'c': 444, 'd': 500,
      'e': 444, 'f': 333, 'g': 500, 'h': 500, 'i': 278, 'j': 278, 'k': 500, 'l': 278, 'm': 778,
      'n': 500, 'o': 500, 'p': 500, 'q': 500, 'r': 333, 's': 389, 't': 278, 'u': 500, 'v': 500,
      'w': 722, 'x': 500, 'y': 500, 'z': 444, 'A': 722, 'B': 667, 'C': 667, 'D': 722, 'E': 611,
      'I': 333, 'M': 889, 'P': 556, 'R': 667, 'S': 556, 'U': 722}
CAP_SIZE = 20
CAP_FONT = dict(family='Liberation Serif', size=CAP_SIZE, color='#000')


def word_w(wd):
    return sum(TW.get(ch, 500) for ch in wd) * CAP_SIZE / 1000.0


def add_caption(lines, y1, y2):
    words = lines[0].split(' ')
    widths = [word_w(wd) for wd in words]
    left, right = 8, 1239
    gap = (right - left - sum(widths)) / (len(words) - 1)
    x = float(left)
    for wd, wdt in zip(words, widths):
        ann.append(dict(text=wd, x=px(x), y=py(y1), xref='paper', yref='paper', showarrow=False,
                        xanchor='left', yanchor='middle', font=CAP_FONT, borderpad=0))
        x += wdt + gap
    ann.append(dict(text=lines[1], x=px(left), y=py(y2), xref='paper', yref='paper', showarrow=False,
                    xanchor='left', yanchor='middle', font=CAP_FONT, borderpad=0))


add_caption(caption_a, 480, 504)
add_caption(caption_b, 998, 1020)

fig.update_layout(template='none', width=W, height=H, margin=dict(l=0, r=0, t=0, b=0, pad=0),
                  paper_bgcolor='white', plot_bgcolor='white', showlegend=False,
                  annotations=ann)

fig.write_html("out.html", config={'displayModeBar': False},
               post_script="document.body.style.margin='0';document.documentElement.style.margin='0';")
